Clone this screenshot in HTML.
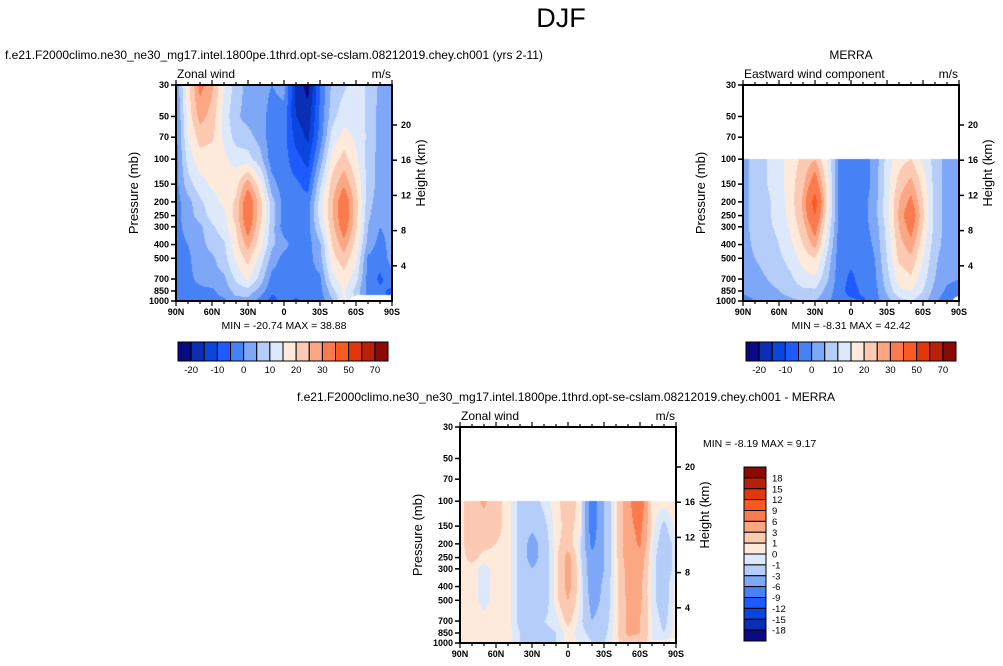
<!DOCTYPE html>
<html><head><meta charset="utf-8">
<style>
html,body{margin:0;padding:0;background:#fff;}
#wrap{position:relative;width:1003px;height:666px;overflow:hidden;font-family:"Liberation Sans",sans-serif;}
canvas{position:absolute;}
svg{position:absolute;left:0;top:0;}
</style></head>
<body>
<div id="wrap">
<canvas id="c1"></canvas>
<canvas id="c2"></canvas>
<canvas id="c3"></canvas>
<svg id="s" width="1003" height="666"></svg>
</div>
<script>
// ---- data (columns = latitude, each array = values by pressure level) ----
const lats=[90,80,70,60,50,40,30,20,10,0,-10,-20,-30,-40,-50,-60,-70,-80,-90];
const presFull=[30,50,70,100,150,200,250,300,400,500,700,850,1000];
const presTrop=[100,150,200,250,300,400,500,700,850,1000];
const N=NaN;
const modelCols=[
[1,-2,-2,-2,-2,-2,-2,-2,-2,-2,-2,-2,-2],
[18,17,15,12,8,3,3,2,0,-1,-1,-1,-1],
[32,27,22,18,13,9,7,4,3,3,1,-1,-1],
[26,23,21,17,16,13,12,9,7,4,3,-1,-1],
[15,13,14,16,17,16,14,13,9,8,4,2,-1],
[8,6,8,13,18,21,22,20,18,16,11,7,3],
[3,3,7,12,28,36,36,34,27,22,16,8,3],
[2,2,3,7,17,22,22,20,17,13,8,3,-2],
[0,-2,-3,-3,2,7,8,7,6,3,-2,-4,-7],
[2,-2,-3,-3,-3,-2,-3,-3,2,-2,-3,-3,-3],
[-17,-15,-12,-8,-4,-3,-3,-3,-3,-3,-3,-3,-6],
[-22,-18,-16,-12,-7,-3,-2,-2,-2,-2,-2,-3,-3],
[-5,-4,-3,2,9,12,12,10,4,3,-1,-2,-3],
[6,8,12,17,22,24,24,23,20,18,13,8,4],
[9,13,17,22,29,36,36,34,28,23,18,16,15],
[13,13,14,16,20,22,22,21,18,16,12,8,N],
[9,9,9,8,8,7,6,5,3,-1,-2,-2,N],
[4,3,3,3,3,2,1,0,-2,-3,-6,-4,N],
[3,3,2,2,2,2,2,2,2,2,-2,-6,N]];
const merraCols=[
[3,3,3,3,3,3,3,2,1,-2],
[7,7,7,7,7,6,5,3,2,0],
[10,10,9,9,9,8,7,5,3,1],
[13,13,12,12,11,10,9,7,5,3],
[18,18,18,17,16,14,12,9,7,4],
[21,24,26,25,23,20,17,13,9,5],
[25,35,45,40,34,27,20,14,9,5],
[15,18,18,17,15,12,9,6,3,1],
[-1,-1,-1,-1,-2,-2,-3,-3,-3,-3],
[-3,-3,-2,-2,-3,-3,-4,-6,-7,-4],
[-3,-3,-2,-2,-2,-3,-3,-3,-4,-6],
[2,2,3,3,2,1,0,-1,-2,-2],
[12,13,13,13,12,11,10,8,6,3],
[18,22,25,26,25,23,21,17,14,8],
[20,27,32,36,33,28,24,19,15,10],
[14,18,20,21,20,17,15,12,10,7],
[8,8,8,8,8,7,6,5,3,1],
[3,3,3,3,3,3,2,1,-1,-3],
[3,3,3,3,3,3,2,0,-2,N]];
const diffCols=[
[0.5,0.5,0.5,0.5,0.5,0.5,0.5,0.5,0.5,0.5],
[2,2,2,1.5,0.5,0.5,0.5,0.5,0.5,0.5],
[3.5,2,1.5,0.5,-0.5,-0.5,-0.5,0.5,0.5,0.5],
[1.5,1.5,1,0.5,0.5,0.5,0.5,0.5,0.5,0.5],
[0.5,0.5,0.5,0.5,0.5,0.5,0.5,0.5,0.5,0.5],
[-1.5,-1.5,-1.5,-1.5,-1.5,-1.5,-1.5,-1.5,-1,-1],
[-2,-2.5,-4,-4,-3,-2,-2,-1.5,-1.5,-2],
[-0.5,-1.5,-2,-2,-2,-2,-2,-1,-1.5,-2],
[0.5,0.5,0.5,0.5,0.5,0.5,0.5,-0.5,-1,-1],
[2,1.5,2,4,4,4,3,1.5,0.5,0.5],
[0.5,0.5,-0.5,-0.5,0,0,0,-0.5,-0.5,0],
[-8,-8,-7,-5,-5,-4.5,-4,-3,-1.5,-1],
[-3,-3,-3,-3,-3,-2.5,-2.5,-2,-1.5,-1],
[0.5,0.5,0.5,0.5,0.5,0.5,0.5,0.5,0.5,0.5],
[5,5,4.5,4.5,4,4,3.5,3.5,3.5,2],
[9,7,6.5,5,4.5,3.5,3.5,3,3,2],
[0.5,0.5,0,-0.5,-0.5,-0.5,-0.5,0,0,0],
[0.5,-1.5,-2,-2,-2,-2,-2,-1.5,-1,0.5],
[0.5,0.5,-0.5,-0.5,-0.5,0.5,0.5,0.5,0.5,N]];
const windLevels=[-20,-15,-10,-5,0,5,10,15,20,25,30,40,50,60,70];
const windTickLabels=["-20","-10","0","10","20","30","50","70"];
const diffLevels=[-18,-15,-12,-9,-6,-3,-1,0,1,3,6,9,12,15,18];
const diffTickLabels=["18","15","12","9","6","3","1","0","-1","-3","-6","-9","-12","-15","-18"];
const palette=["#0a0a84","#0a2eb4","#0a45de","#1e5bff","#4682f5","#7ea7f7","#b5cdf9","#dde9fb","#feeadb","#fccab2","#fca784","#fb7b4f","#fc5a22","#e0380a","#b82008","#8b0a08"];
const presTicks=[30,50,70,100,150,200,250,300,400,500,700,850,1000];
const heightTicks=[4,8,12,16,20];
const latTicks=[90,60,30,0,-30,-60,-90];

// ---- helpers ----
const S=document.getElementById('s');
const NS='http://www.w3.org/2000/svg';
function mk(tag,attrs,txt){const e=document.createElementNS(NS,tag);for(const k in attrs)e.setAttribute(k,attrs[k]);if(txt!==undefined)e.textContent=txt;S.appendChild(e);return e;}
function latLabel(l){return l===0?"0":(Math.abs(l)+(l>0?"N":"S"));}
function colorIdx(v,lev){let i=0;while(i<lev.length&&v>=lev[i])i++;return i;}

function drawField(cid,P,pres,cols,lev){
  const c=document.getElementById(cid);
  c.width=P.w;c.height=P.h;c.style.left=P.x+'px';c.style.top=P.y+'px';
  const ctx=c.getContext('2d');const img=ctx.createImageData(P.w,P.h);
  const L=Math.log(1000/30);
  const lp=pres.map(p=>Math.log(p));
  const rgb=palette.map(h=>[parseInt(h.substr(1,2),16),parseInt(h.substr(3,2),16),parseInt(h.substr(5,2),16)]);
  for(let py=0;py<P.h;py++){
    const p=30*Math.exp((py+0.5)/P.h*L);const l=Math.log(p);
    for(let px=0;px<P.w;px++){
      const k=(py*P.w+px)*4;
      let col=[255,255,255];
      if(p>=pres[0]){
        let i=0;while(i<pres.length-2&&l>lp[i+1])i++;
        const t=Math.min(1,Math.max(0,(l-lp[i])/(lp[i+1]-lp[i])));
        const fx=(px+0.5)/P.w*(lats.length-1);
        let j=Math.min(lats.length-2,Math.floor(fx));const s=fx-j;
        const cs=[[cols[j][i],(1-t)*(1-s)],[cols[j+1][i],(1-t)*s],[cols[j][i+1],t*(1-s)],[cols[j+1][i+1],t*s]];
        let wn=0,sw=0,sv=0;
        for(const [v,w] of cs){if(isNaN(v))wn+=w;else{sw+=w;sv+=v*w;}}
        if(wn<0.45&&sw>0){col=rgb[colorIdx(sv/sw,lev)];}
      }
      img.data[k]=col[0];img.data[k+1]=col[1];img.data[k+2]=col[2];img.data[k+3]=255;
    }
  }
  ctx.putImageData(img,0,0);
}

function drawAxes(P,title,units,minmax,mmY){
  const L=Math.log(1000/30);
  const yOf=p=>P.y+Math.log(p/30)/L*P.h;
  const xOf=lat=>P.x+(90-lat)/180*P.w;
  const fr=mk('rect',{x:P.x,y:P.y,width:P.w,height:P.h,fill:'none',stroke:'#000','stroke-width':2});
  
  
  for(const p of presTicks){
    const y=yOf(p);
    const tk=mk('line',{x1:P.x-5,y1:y,x2:P.x,y2:y,stroke:'#000','stroke-width':1.5});
    
    
    const tl=mk('text',{x:P.x-7,y:y+3,'font-size':9,'font-weight':'bold','text-anchor':'end'},String(p));
    
    
  }
  for(let lat=90;lat>=-90;lat-=10){
    const x=xOf(lat);const major=lat%30===0;
    const b=mk('line',{x1:x,y1:P.y+P.h,x2:x,y2:P.y+P.h+(major?5:3),stroke:'#000','stroke-width':1.2});
    
    
    const t=mk('line',{x1:x,y1:P.y,x2:x,y2:P.y-(major?5:3),stroke:'#000','stroke-width':1.2});
    
    
  }
  for(const lat of latTicks){
    const tl=mk('text',{x:xOf(lat),y:P.y+P.h+14,'font-size':9,'font-weight':'bold','text-anchor':'middle'},latLabel(lat));
    
    
  }
  for(const z of heightTicks){
    const y=yOf(1000*Math.exp(-z/7));
    const tk=mk('line',{x1:P.x+P.w,y1:y,x2:P.x+P.w+5,y2:y,stroke:'#000','stroke-width':1.5});
    
    
    const tl=mk('text',{x:P.x+P.w+9,y:y+3,'font-size':9,'font-weight':'bold'},String(z));
    
    
  }
  const yt=mk('text',{x:0,y:0,'font-size':13,'text-anchor':'middle',transform:`translate(${P.x-38},${P.y+P.h/2}) rotate(-90)`},'Pressure (mb)');
  
  
  const rt=mk('text',{x:0,y:0,'font-size':13,'text-anchor':'middle',transform:`translate(${P.x+P.w+33},${P.y+P.h/2-20}) rotate(-90)`},'Height (km)');
  
  
  const st=mk('text',{x:P.x+1,y:P.y-7,'font-size':12},title);
  
  
  const un=mk('text',{x:P.x+P.w-1,y:P.y-7,'font-size':12,'text-anchor':'end'},units);
  
  
  if(minmax){
    const mm=mk('text',{x:P.x+P.w/2,y:mmY,'font-size':10.5,'text-anchor':'middle','xml:space':'preserve'},minmax);
    
    
  }
}

function hBar(x,y,w,h){
  const n=palette.length,bw=w/n;
  for(let i=0;i<n;i++){
    const r=mk('rect',{x:x+i*bw,y:y,width:bw,height:h,fill:palette[i],stroke:'#000','stroke-width':1});
    
    
  }
  windTickLabels.forEach((lab,k)=>{
    const t=mk('text',{x:x+(1+2*k)*bw,y:y+h+12,'font-size':9.5,'text-anchor':'middle'},lab);
    
    
  });
}
function vBar(x,y,w,h){
  const n=palette.length,bh=h/n;
  for(let i=0;i<n;i++){
    const r=mk('rect',{x:x,y:y+i*bh,width:w,height:bh,fill:palette[n-1-i],stroke:'#000','stroke-width':1});
    
    
  }
  diffTickLabels.forEach((lab,k)=>{
    const t=mk('text',{x:x+w+6,y:y+(k+1)*bh+3.5,'font-size':9.5},lab);
    
    
  });
}

// ---- panels ----
const P1={x:176,y:85,w:216,h:216},P2={x:743,y:85,w:216,h:216},P3={x:460,y:427,w:216,h:216};
drawField('c1',P1,presFull,modelCols,windLevels);
drawField('c2',P2,presTrop,merraCols,windLevels);
drawField('c3',P3,presTrop,diffCols,diffLevels);

const tt=mk('text',{x:561,y:27,'font-size':27,'text-anchor':'middle'},'DJF');


const c1t=mk('text',{x:5,y:59,'font-size':12},'f.e21.F2000climo.ne30_ne30_mg17.intel.1800pe.1thrd.opt-se-cslam.08212019.chey.ch001 (yrs 2-11)');


const c2t=mk('text',{x:851,y:59,'font-size':12,'text-anchor':'middle'},'MERRA');


const c3t=mk('text',{x:566,y:401,'font-size':12,'text-anchor':'middle'},'f.e21.F2000climo.ne30_ne30_mg17.intel.1800pe.1thrd.opt-se-cslam.08212019.chey.ch001 - MERRA');



drawAxes(P1,'Zonal wind','m/s','MIN = -20.74  MAX =  38.88',329);
drawAxes(P2,'Eastward wind component','m/s','MIN =  -8.31  MAX =  42.42',329);
drawAxes(P3,'Zonal wind','m/s',null,0);
const dm=mk('text',{x:703,y:447,'font-size':10.5,'xml:space':'preserve'},'MIN =  -8.19  MAX =   9.17');



hBar(178,342,210,19);
hBar(746,342,210,19);
vBar(744,467,22,174);
</script>
</body></html>
